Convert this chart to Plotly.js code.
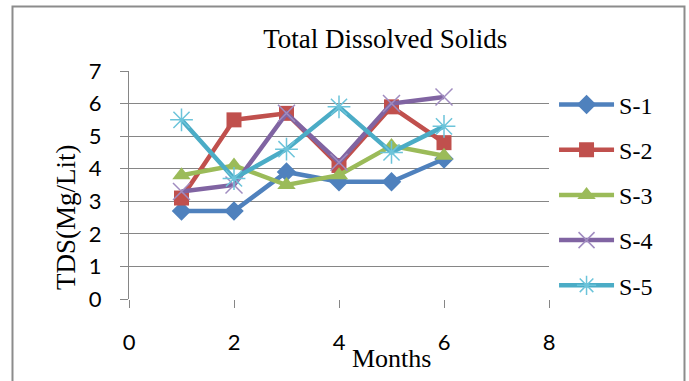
<!DOCTYPE html>
<html>
<head>
<meta charset="utf-8">
<script src="https://cdn.plot.ly/plotly-3.0.1.min.js"></script>
<style>
  html, body { margin: 0; padding: 0; background: #fff; }
  #chart { width: 689px; height: 381px; }
</style>
</head>
<body>
<div id="chart"></div>
<script>
// Monthly total dissolved solids readings at five sampling sites
const months = [1, 2, 3, 4, 5, 6];
const s1 = [2.7, 2.7, 3.9, 3.6, 3.6, 4.3];
const s2 = [3.1, 5.5, 5.7, 4.1, 5.9, 4.8];
const s3 = [3.8, 4.1, 3.5, 3.8, 4.7, 4.4];
const s4 = [3.3, 3.5, 5.7, 4.2, 6.0, 6.2];
const s5 = [5.5, 3.7, 4.6, 5.9, 4.5, 5.3];
const siteNames = ['S-1', 'S-2', 'S-3', 'S-4', 'S-5'];
const xTicks = [0, 2, 4, 6, 8];
const yTicks = [0, 1, 2, 3, 4, 5, 6, 7];

const seriesValues = [s1, s2, s3, s4, s5];
const lineColors = ['#4F81BD', '#C0504D', '#9BBB59', '#8064A2', '#4BACC6'];
const markerStyles = [
  { symbol: 'diamond', size: 15, color: '#4F81BD' },
  { symbol: 'square', size: 15, color: '#C0504D' },
  { symbol: 'triangle-up', size: 16, color: '#9BBB59' },
  { symbol: 'x-thin-open', size: 17, color: '#A08CC0', line: { width: 1.5, color: '#A08CC0' } },
  { symbol: 'asterisk-open', size: 19, color: '#6CC4DA', line: { width: 1.5, color: '#6CC4DA' } }
];

const traces = seriesValues.map((vals, i) => ({
  x: months,
  y: vals,
  name: siteNames[i],
  legendgroup: siteNames[i],
  type: 'scatter',
  mode: 'lines+markers',
  line: { color: lineColors[i], width: 4.5 },
  marker: markerStyles[i],
  cliponaxis: false
}));

const serif = 'Liberation Serif, Times New Roman, serif';
const sans = 'Lato, Liberation Sans, sans-serif';

const layout = {
  width: 689,
  height: 381,
  margin: { l: 129, r: 140, t: 71, b: 82 },
  paper_bgcolor: '#fff',
  plot_bgcolor: '#fff',
  showlegend: true,
  title: {
    text: 'Total Dissolved Solids',
    font: { family: serif, size: 27, color: '#000' },
    xref: 'paper', x: 0.61, xanchor: 'center',
    yref: 'container', y: 0.9, yanchor: 'middle'
  },
  xaxis: {
    range: [0, 8],
    tickvals: xTicks,
    ticktext: xTicks.map(String),
    showgrid: false,
    zeroline: false,
    showline: false,
    ticks: 'outside', ticklen: 8, tickcolor: '#868686', tickwidth: 1,
    ticklabelstandoff: 16,
    tickfont: { family: sans, size: 22, color: '#000' },
    fixedrange: true
  },
  yaxis: {
    range: [0, 7],
    tickvals: yTicks,
    showgrid: true, gridcolor: '#868686', gridwidth: 1,
    zeroline: false,
    showline: true, linecolor: '#868686', linewidth: 1,
    ticks: 'outside', ticklen: 8, tickcolor: '#868686', tickwidth: 1,
    ticklabelstandoff: 14,
    tickfont: { family: sans, size: 22, color: '#000' },
    fixedrange: true
  },
  legend: {
    x: 1.012, xanchor: 'left',
    y: 0.95, yanchor: 'top',
    traceorder: 'grouped',
    tracegroupgap: 11,
    itemwidth: 55,
    font: { family: serif, size: 24, color: '#000' },
    bgcolor: 'rgba(0,0,0,0)',
    borderwidth: 0
  },
  annotations: [
    {
      text: 'Months', xref: 'paper', yref: 'paper',
      x: 0.624, y: -0.259, xanchor: 'center', yanchor: 'middle',
      showarrow: false, font: { family: serif, size: 26, color: '#000' }
    },
    {
      text: 'TDS(Mg/Lit)', xref: 'paper', yref: 'paper',
      x: -0.15, y: 0.36, xanchor: 'center', yanchor: 'middle',
      textangle: -90,
      showarrow: false, font: { family: serif, size: 27, color: '#000' }
    }
  ],
  shapes: [
    {
      type: 'rect', xref: 'paper', yref: 'paper',
      x0: -0.2774, x1: 1.3226, y0: -0.5, y1: 1.283,
      line: { color: '#8C8C8C', width: 2 }, fillcolor: 'rgba(0,0,0,0)',
      layer: 'below'
    }
  ]
};

Plotly.newPlot('chart', traces, layout, { displayModeBar: false, staticPlot: true });
</script>
</body>
</html>
